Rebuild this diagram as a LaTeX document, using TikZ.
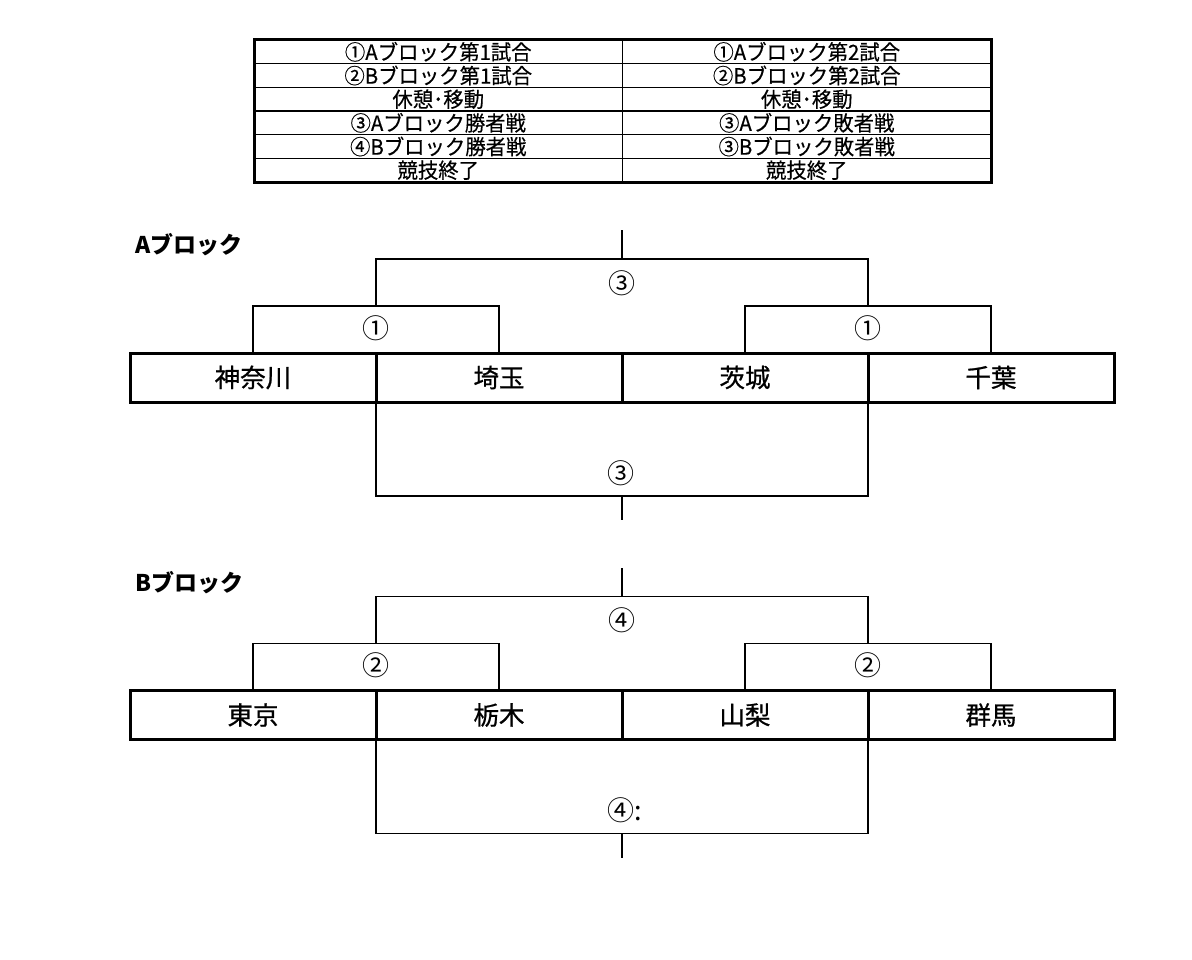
\documentclass[tikz,border=0pt]{standalone}
\usepackage{fontspec}
\setmainfont{Noto Sans CJK JP}
\newfontfamily\narrowjp[FakeStretch=0.97,FakeBold=0.4]{Noto Sans CJK JP}
\newfontfamily\teamjp[FakeBold=0.8]{Noto Sans CJK JP}
\usetikzlibrary{positioning}
\tikzset{
  team/.style={draw,line width=3pt,outer sep=0pt,inner sep=0pt,minimum width=246pt,minimum height=49pt,font=\teamjp\fontsize{25.5}{25.5}\selectfont},
  cell/.style={draw,line width=1.3pt,outer sep=0pt,inner sep=0pt,minimum width=368.5pt,minimum height=23.67pt,font=\narrowjp\fontsize{21}{21}\selectfont},
  bracket/.style={line width=1.3pt},
  round/.style={inner sep=0pt,font=\fontsize{27}{27}\selectfont},
  blocklabel/.style={anchor=west,inner sep=0pt,font=\bfseries\fontsize{23}{23}\selectfont}
}
\newcommand{\drawblock}[8]
{\node[blocklabel] (label) at (135,245) {#1};
\node[team] (t1) at (253,377.5) {#5};
\node[team,right=0pt of t1] (t2) {#6};
\node[team,right=0pt of t2] (t3) {#7};
\node[team,right=0pt of t3] (t4) {#8};
\draw[bracket] (t1.north) -- ++(0,-47) -| (t2.north);
\draw[bracket] (t3.north) -- ++(0,-47) -| (t4.north);
\draw[bracket] ([yshift=47pt]t2.north west) -- ++(0,-47) -| ([yshift=47pt]t4.north west);
\draw[bracket] ([yshift=94pt]t2.north east) -- ++(0,-29);
\draw[bracket] (t2.south west) -- ++(0,94) -| (t3.south east);
\draw[bracket] ([yshift=-94pt]t3.south west) -- ++(0,24);
\node[round] (m1) at (376,328) {#2};
\node[round] (m2) at (868,328) {#2};
\node[round] (fin) at (622,283) {#3};
\node[round] (low) at (621,473) {#4};
}
\begin{document}
\begin{tikzpicture}[x=1pt,y=-1pt]
	\useasboundingbox (0,0) rectangle (1192,960);
	% order of play
	\foreach \l/\r [count=\i] in {①Aブロック第1試合/①Aブロック第2試合,②Bブロック第1試合/②Bブロック第2試合,休憩･移動/休憩･移動,③Aブロック勝者戦/③Aブロック敗者戦,④Bブロック勝者戦/③Bブロック敗者戦,競技終了/競技終了}
		{\node[cell] (l\i) at (438.25,28.165+\i*23.67) {\l};
		\node[cell,right=0pt of l\i] (r\i) {\r};
		};
	\draw[line width=3pt] (l1.north west) rectangle (r6.south east);
	% blocks
	\drawblock{Aブロック}{①}{③}{③}{神奈川}{埼玉}{茨城}{千葉}
	\begin{scope}[yshift=-337.5pt]
	\drawblock{Bブロック}{②}{④}{④\rlap{:}}{東京}{栃木}{山梨}{群馬}
	\end{scope}
\end{tikzpicture}
\end{document}
